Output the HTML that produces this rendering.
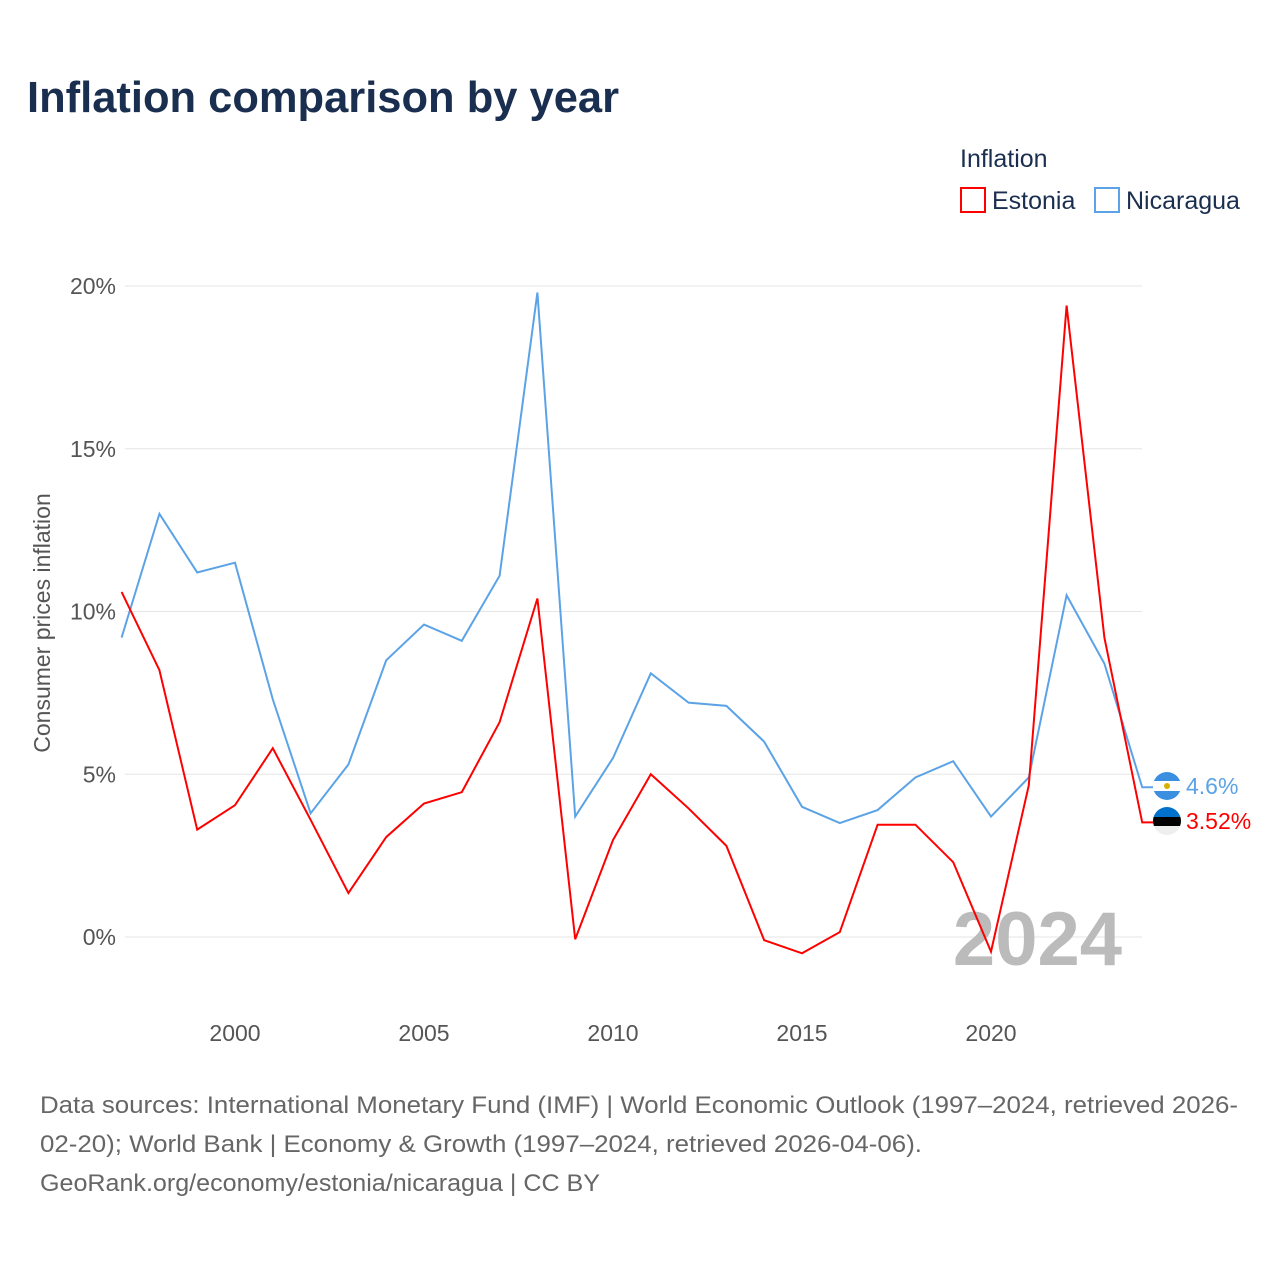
<!DOCTYPE html>
<html><head><meta charset="utf-8">
<style>
body{margin:0;background:#fff;font-family:"Liberation Sans",sans-serif;}
svg text{font-family:"Liberation Sans",sans-serif;}
</style></head>
<body>
<svg id="chart" width="1280" height="1280" xmlns="http://www.w3.org/2000/svg">
<text x="27" y="112" font-size="44" font-weight="bold" fill="#1a2e4f" textLength="592" lengthAdjust="spacingAndGlyphs">Inflation comparison by year</text>
<text x="960" y="167" font-size="25" fill="#1a2e4f">Inflation</text>
<g><rect x="961" y="188" width="24" height="24" fill="none" stroke="#ff0000" stroke-width="2"/><text x="992" y="209" font-size="25" fill="#1a2e4f">Estonia</text></g>
<g><rect x="1095" y="188" width="24" height="24" fill="none" stroke="#5ba3e6" stroke-width="2"/><text x="1126" y="209" font-size="25" fill="#1a2e4f">Nicaragua</text></g>
<g id="grid"></g>
<text transform="translate(50,623) rotate(-90)" text-anchor="middle" font-size="23" fill="#555">Consumer prices inflation</text>
<text x="1122" y="965" text-anchor="end" font-size="76" font-weight="bold" fill="#bbb">2024</text>
<g id="series"></g>
<g><circle cx="1167" cy="786" r="14" fill="#3b8fe0"/><rect x="1153" y="781" width="28" height="10" fill="#fff"/><circle cx="1167" cy="786" r="3" fill="#d4b000"/></g>
<g><clipPath id="ec"><circle cx="1167" cy="821" r="14"/></clipPath><g clip-path="url(#ec)"><rect x="1153" y="807" width="28" height="10" fill="#0072ce"/><rect x="1153" y="817" width="28" height="9" fill="#000"/><rect x="1153" y="826" width="28" height="10" fill="#eee"/></g></g>
<text x="1186" y="794" font-size="23" fill="#5ba3e6">4.6%</text>
<text x="1186" y="829" font-size="23" fill="#ff0000">3.52%</text>
<g font-size="24" fill="#666">
<text x="40" y="1113" textLength="1198" lengthAdjust="spacingAndGlyphs">Data sources: International Monetary Fund (IMF) | World Economic Outlook (1997–2024, retrieved 2026-</text>
<text x="40" y="1152" textLength="882" lengthAdjust="spacingAndGlyphs">02-20); World Bank | Economy &amp; Growth (1997–2024, retrieved 2026-04-06).</text>
<text x="40" y="1191" textLength="560" lengthAdjust="spacingAndGlyphs">GeoRank.org/economy/estonia/nicaragua | CC BY</text>
</g>
</svg>
<script>
const years=[1997,1998,1999,2000,2001,2002,2003,2004,2005,2006,2007,2008,2009,2010,2011,2012,2013,2014,2015,2016,2017,2018,2019,2020,2021,2022,2023,2024];
const estonia=[10.6,8.2,3.3,4.05,5.8,3.6,1.35,3.07,4.1,4.45,6.6,10.4,-0.07,2.98,5.0,3.95,2.8,-0.1,-0.5,0.15,3.45,3.45,2.3,-0.45,4.66,19.4,9.2,3.52];
const nicaragua=[9.2,13.0,11.2,11.5,7.3,3.8,5.3,8.5,9.6,9.1,11.1,19.8,3.7,5.5,8.1,7.2,7.1,6.0,4.0,3.5,3.9,4.9,5.4,3.7,4.9,10.5,8.4,4.6];
const yTicks=[0,5,10,15,20];
const xTicks=[2000,2005,2010,2015,2020];
const NS="http://www.w3.org/2000/svg";
const xs=y=>121.6+(y-1997)*37.8;
const ys=v=>937-v*32.55;
const grid=document.getElementById('grid');
yTicks.forEach(t=>{
 const l=document.createElementNS(NS,'line');
 l.setAttribute('x1',125);l.setAttribute('x2',1142);l.setAttribute('y1',ys(t));l.setAttribute('y2',ys(t));
 l.setAttribute('stroke','#e6e6e6');
 
 
 grid.appendChild(l);
 const tx=document.createElementNS(NS,'text');
 tx.setAttribute('x',116);tx.setAttribute('y',ys(t)+8);tx.setAttribute('text-anchor','end');
 tx.setAttribute('font-size','23');tx.setAttribute('fill','#555');tx.textContent=t+'%';
 
 
 grid.appendChild(tx);
});
xTicks.forEach(t=>{
 const tx=document.createElementNS(NS,'text');
 tx.setAttribute('x',xs(t));tx.setAttribute('y',1041);tx.setAttribute('text-anchor','middle');
 tx.setAttribute('font-size','23');tx.setAttribute('fill','#555');tx.textContent=t;
 
 
 grid.appendChild(tx);
});
const ser=document.getElementById('series');
function line(vals,color,name){
 const p=document.createElementNS(NS,'polyline');
 const pts=vals.map((v,i)=>xs(years[i])+','+ys(v));
 const last=vals[vals.length-1];
 pts.push((xs(2024)+12)+','+ys(last));
 p.setAttribute('points',pts.join(' '));
 p.setAttribute('fill','none');p.setAttribute('stroke',color);p.setAttribute('stroke-width','2');
 
 
 ser.appendChild(p);
}
line(nicaragua,'#5ba3e6','nicaragua-line');
line(estonia,'#ff0000','estonia-line');
</script>
</body></html>
